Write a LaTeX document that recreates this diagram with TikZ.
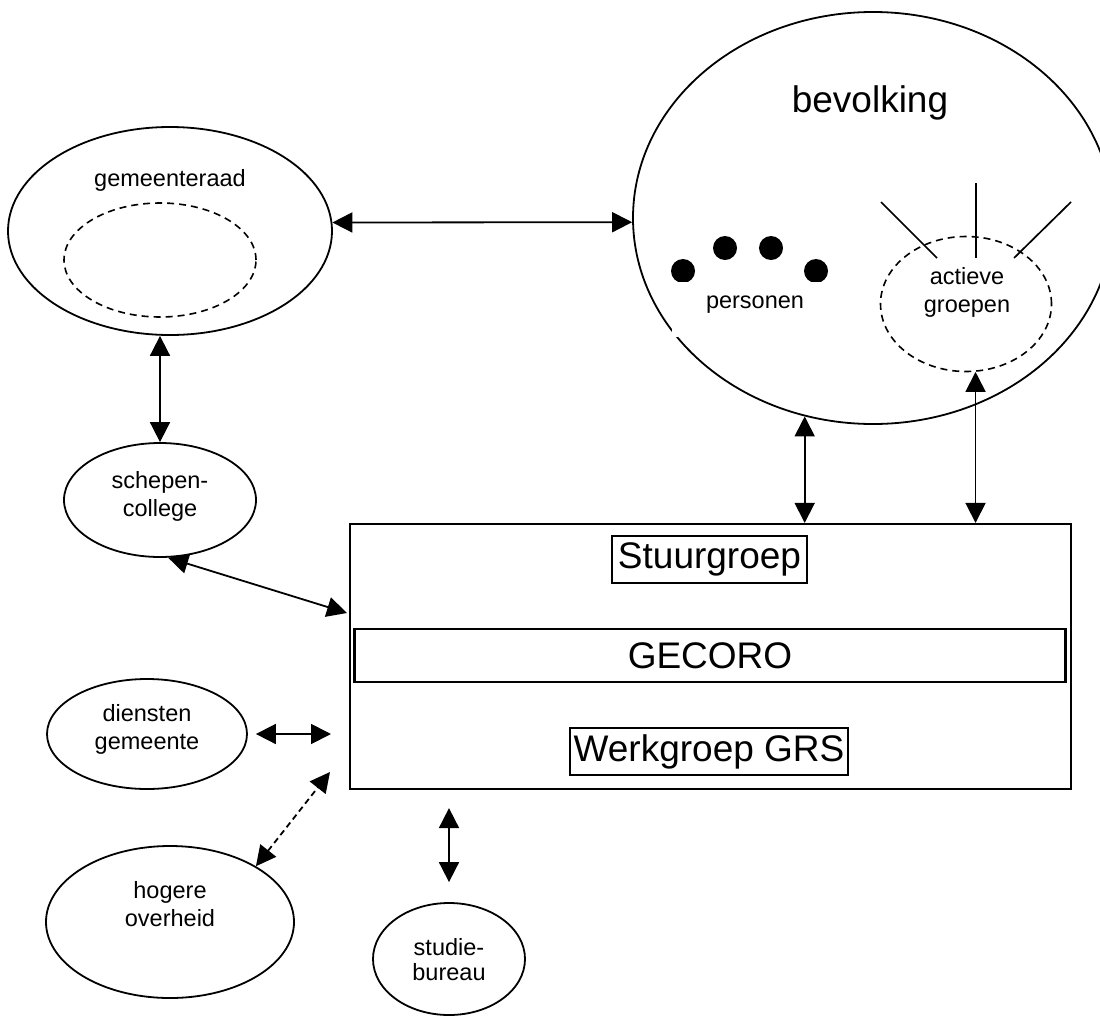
\documentclass[tikz,border=0pt]{standalone}
\usepackage{fontspec}
\setmainfont{Liberation Sans}
\usepackage{xcolor}
\usetikzlibrary{calc,arrows.meta,shapes.geometric}
\definecolor{inkt}{HTML}{000000}
\definecolor{papier}{HTML}{FFFFFF}
\tikzset{
  ovaal/.style={draw=inkt, ellipse, line width=1.8pt, inner sep=0pt},
  stipovaal/.style={ovaal, line width=1.6pt, dash pattern=on 7pt off 5pt},
  kader/.style={draw=inkt, line width=2.2pt, inner sep=0pt},
  streep/.style={draw=inkt, line width=1.7pt},
  pijl/.style={draw=inkt, line width=1.8pt, {Triangle[length=20pt,width=20pt]}-{Triangle[length=20pt,width=20pt]}},
  stippijl/.style={pijl, dash pattern=on 6pt off 4pt},
  dot/.style={circle, fill=inkt, inner sep=0pt, minimum size=24pt},
  lbl/.style={text=inkt, font=\fontsize{23.5}{28}\selectfont, align=center},
  groot/.style={text=inkt, font=\fontsize{37}{44}\selectfont}
}

\begin{document}
\begin{tikzpicture}[x=1pt, y=-1pt]
  \path[use as bounding box, clip] (0,0) rectangle (1100,1015);

  % ovalen
  \node[ovaal, minimum width=324pt, minimum height=208pt] (raad) at (170,231) {};
  \node[stipovaal, minimum width=192pt, minimum height=114pt] (raadkern) at (160,260) {};
  \node[ovaal, minimum width=480pt, minimum height=412pt] (bevolking) at (873,218) {};
  \node[stipovaal, minimum width=171pt, minimum height=135pt] (groepen) at (966,304) {};
  \node[ovaal, minimum width=192pt, minimum height=114pt] (schepen) at (160,500) {};
  \node[ovaal, minimum width=200pt, minimum height=110pt] (diensten) at (147,734) {};
  \node[ovaal, minimum width=248pt, minimum height=152pt] (overheid) at (170,922) {};
  \node[ovaal, minimum width=152pt, minimum height=112pt] (studie) at (449,959) {};

  % personen
  \node[dot] (p1) at (683,271) {};
  \node[dot] (p2) at (725,248) {};
  \node[dot] (p3) at (771,248) {};
  \node[dot] (p4) at (816,271) {};
  \fill[papier] (672,282) rectangle (838,337);
  \node[lbl] (personen) at (755,305) {personen};

  % actieve groepen
  \draw[streep] (881,202) -- (937,258);
  \draw[streep] (976,183) -- (976,258);
  \draw[streep] (1071,202) -- (1014,258);

  \node[groot] (tbevolking) at (870,103) {bevolking};
  \node[lbl] (traad) at (170,180) {gemeenteraad};
  \node[lbl] (tgroepen) at (967,292) {actieve\\groepen};
  \node[lbl] (tschepen) at (160,496) {schepen-\\college};
  \node[lbl] (tdiensten) at (147,729) {diensten\\gemeente};
  \node[lbl] (toverheid) at (170,904) {hogere\\overheid};
  \node[lbl, font=\fontsize{23.5}{25}\selectfont] (tstudie) at (449,960) {studie-\\bureau};

  % kader
  \node[kader, minimum width=721pt, minimum height=265pt] (kader) at (710.5,656.5) {};
  \node[kader, groot, minimum width=195pt, minimum height=47pt] (stuur) at (709.5,559.5) {Stuurgroep};
  \node[kader, groot, minimum width=711pt, minimum height=53pt] (gecoro) at (710,655.5) {GECORO};
  \node[kader, groot, minimum width=278pt, minimum height=47pt] (werk) at (709,751.5) {Werkgroep GRS};

  \coordinate (kaderA) at (347,613);
  \coordinate (kaderB) at (331,734);
  \coordinate (kaderC) at (330,772);

  % pijlen
  \draw[pijl] (raad.3) -- (bevolking.181);
  \draw[pijl] (raad.south -| schepen.north) -- (schepen.north);
  \draw[pijl] (schepen.-82) -- (kaderA);
  \draw[pijl, shorten <=8pt] (diensten.east) -- (kaderB);
  \draw[stippijl] (overheid.33.5) -- (kaderC);
  \draw[pijl, shorten <=18pt, shorten >=20pt] (kader.south -| studie.north) -- (studie.north);
  \draw[pijl] (bevolking.-109) -- (bevolking.-109 |- kader.north);
  \draw[pijl] (groepen.-82) -- (groepen.-82 |- kader.north);
\end{tikzpicture}
\end{document}
